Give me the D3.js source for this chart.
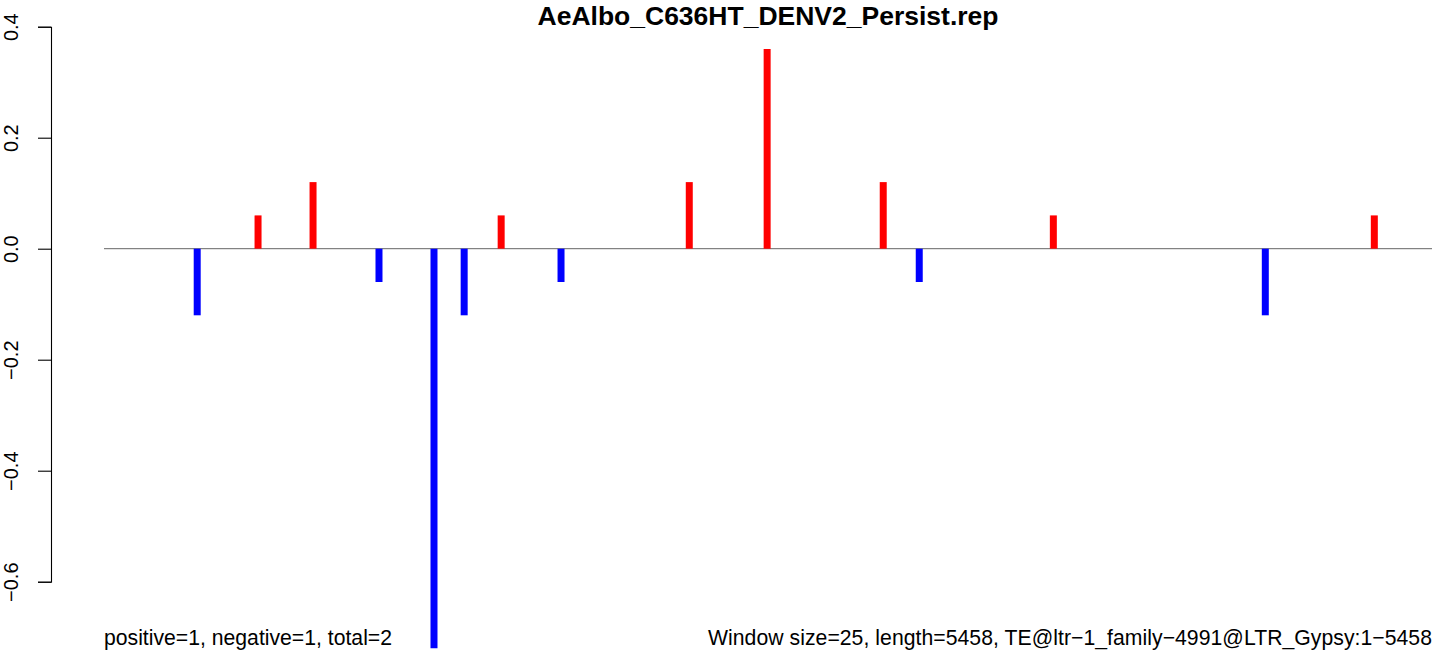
<!DOCTYPE html>
<html>
<head>
<meta charset="utf-8">
<script src="https://cdn.jsdelivr.net/npm/d3@7"></script>
<style>
  body { margin: 0; background: #fff; }
  text { font-family: "Liberation Sans", Arial, sans-serif; }
</style>
</head>
<body>
<div id="chart"></div>
<script>
// window positions (bp) and scores
const positions = [384, 634, 860, 1131, 1357, 1481, 1633, 1879, 2406, 2726, 3203, 3351, 3902, 4773, 5221];
const scores = [-0.12, 0.06, 0.12, -0.06, -0.72, -0.12, 0.06, -0.06, 0.12, 0.36, 0.12, -0.06, 0.06, -0.12, 0.06];
const yTicks = [-0.6, -0.4, -0.2, 0.0, 0.2, 0.4];
const seqLength = 5458;
const title = "AeAlbo_C636HT_DENV2_Persist.rep";
const leftNote = "positive=1, negative=1, total=2";
const rightNote = "Window size=25, length=5458, TE@ltr\u22121_family\u22124991@LTR_Gypsy:1\u22125458";

const width = 1444, height = 652;

const svg = d3.select("#chart")
    .append("svg")
    .attr("width", width)
    .attr("height", height);

const x = d3.scaleLinear()
    .domain([1, seqLength])
    .range([104, 1432]);

const y = d3.scaleLinear()
    .domain([-0.6, 0.4])
    .range([581.7, 26.7]);

// title
svg.append("text")
    .attr("x", 768)
    .attr("y", 25)
    .attr("text-anchor", "middle")
    .attr("font-weight", "bold")
    .attr("font-size", 26.5)
    .text(title);

// y axis
const yAxis = svg.append("g")
    .attr("transform", "translate(51,0)")
    .call(d3.axisLeft(y).tickValues(yTicks).tickSize(13).tickPadding(0).tickFormat(d3.format(".1f")));
yAxis.select(".domain").attr("stroke", "#000").attr("stroke-width", 1.1);
yAxis.selectAll(".tick line").attr("stroke", "#000").attr("stroke-width", 1.1);
yAxis.selectAll(".tick text")
    .attr("font-size", 20)
    .attr("font-family", "Liberation Sans, Arial, sans-serif")
    .attr("fill", "#000")
    .attr("text-anchor", "middle")
    .attr("x", 0)
    .attr("dy", 0)
    .attr("transform", "translate(-33,0) rotate(-90)")
    .text(d => d3.format(".1f")(d).replace("-", "\u2212"));

// zero line
svg.append("line")
    .attr("x1", x(1))
    .attr("x2", x(seqLength))
    .attr("y1", y(0))
    .attr("y2", y(0))
    .attr("stroke", "#666")
    .attr("stroke-width", 1);

// spikes
svg.append("g")
    .selectAll("line")
    .data(positions.map((p, i) => ({ pos: p, score: scores[i] })))
    .join("line")
    .attr("x1", d => x(d.pos))
    .attr("x2", d => x(d.pos))
    .attr("y1", y(0))
    .attr("y2", d => y(d.score))
    .attr("stroke", d => d.score > 0 ? "#ff0000" : "#0000ff")
    .attr("stroke-width", 7);

// notes
svg.append("text")
    .attr("x", x(1))
    .attr("y", 645)
    .attr("font-size", 21.2)
    .text(leftNote);

svg.append("text")
    .attr("x", x(seqLength))
    .attr("y", 645)
    .attr("text-anchor", "end")
    .attr("font-size", 21.2)
    .attr("textLength", 724)
    .attr("lengthAdjust", "spacing")
    .text(rightNote);
</script>
</body>
</html>
